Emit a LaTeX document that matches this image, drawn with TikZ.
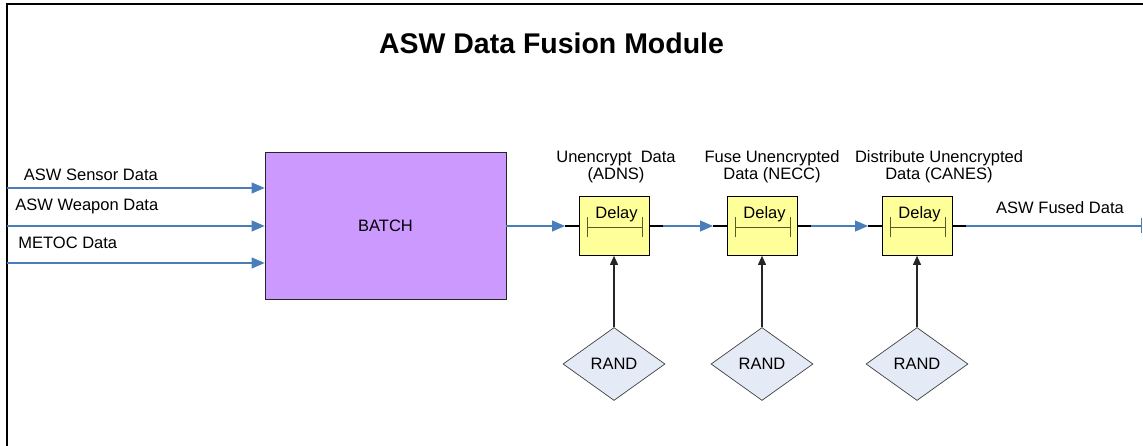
\documentclass[tikz,border=0pt]{standalone}
\usepackage{fontspec}
\setmainfont{Liberation Sans}
\usepackage{tikz}
\usetikzlibrary{arrows, arrows.meta, shapes.geometric}
\definecolor{flowblue}{RGB}{74,126,187}
\definecolor{batchfill}{RGB}{204,153,255}
\definecolor{delayfill}{RGB}{255,255,153}
\definecolor{randfill}{RGB}{228,234,246}
\definecolor{barcolor}{RGB}{90,90,40}
\tikzset{txt/.style = {font = \fontsize{9.4pt}{9.8pt}\selectfont, inner sep = 0pt}}
\tikzset{batch/.style = {shape = rectangle, draw = black!85, fill = batchfill, minimum width = 4.82cm, minimum height = 2.94cm, txt}}
\tikzset{delaybox/.style = {shape = rectangle, draw, fill = delayfill, minimum width = 1.4cm, minimum height = 1.18cm}}
\tikzset{randnode/.style = {shape = diamond, draw = black!75, fill = randfill, minimum width = 2.04cm, minimum height = 1.46cm, inner sep = 0pt, txt}}
\tikzset{flow/.style = {draw = flowblue, line width = 0.6pt, -{Triangle[length = 0.26cm, width = 0.22cm]}}}
\tikzset{stub/.style = {draw = black, line width = 0.6pt}}
\tikzset{seed/.style = {draw = black!85, line width = 0.6pt, -{Triangle[length = 0.18cm, width = 0.16cm]}}}
\tikzset{delaybar/.style = {draw = barcolor, line width = 0.6pt, {Bar[width = 0.4cm]}-{Bar[width = 0.4cm]}}}

\begin{document}
\begin{tikzpicture}
				\useasboundingbox (0, 0) rectangle (22.86, 8.92);
				\draw[line width = 0.85pt] (0.14, 0) -- (0.14, 8.84) -- (22.86, 8.84);

				\node[font = \fontsize{16.2pt}{18pt}\selectfont\bfseries] (title) at (11.03, 8.06) {ASW Data Fusion Module};

				\node[batch] (batch) at (7.71, 4.41) {BATCH};

				\coordinate (s1) at (0.14, 5.16);
				\coordinate (s2) at (0.14, 4.40);
				\coordinate (s3) at (0.14, 3.66);
				\node[txt, anchor = west] (sensor) at (0.47, 5.42) {ASW Sensor Data};
				\node[txt, anchor = west] (weapon) at (0.30, 4.80) {ASW Weapon Data};
				\node[txt, anchor = west] (metoc) at (0.36, 4.06) {METOC Data};

				\node[delaybox] (d1) at (12.28, 4.40) {};
				\node[delaybox] (d2) at (15.24, 4.40) {};
				\node[delaybox] (d3) at (18.34, 4.40) {};
				\node[txt] (dt1) at (12.33, 4.64) {Delay};
				\node[txt] (dt2) at (15.29, 4.64) {Delay};
				\node[txt] (dt3) at (18.39, 4.64) {Delay};

				\node[txt, align = center] (l1) at (12.32, 5.58) {Unencrypt\ \ Data\\(ADNS)};
				\node[txt, align = center] (l2) at (15.44, 5.58) {Fuse Unencrypted\\Data (NECC)};
				\node[txt, align = center] (l3) at (18.78, 5.58) {Distribute Unencrypted\\Data (CANES)};
				\node[txt] (fused) at (21.20, 4.76) {ASW Fused Data};

				\node[randnode] (r1) at (12.28, 1.64) {RAND};
				\node[randnode] (r2) at (15.24, 1.64) {RAND};
				\node[randnode] (r3) at (18.34, 1.64) {RAND};

				\coordinate (i1) at (11.30, 4.40);
				\coordinate (o1) at (13.26, 4.40);
				\coordinate (i2) at (14.26, 4.40);
				\coordinate (o2) at (16.22, 4.40);
				\coordinate (i3) at (17.36, 4.40);
				\coordinate (o3) at (19.32, 4.40);
				\coordinate (out) at (22.84, 4.40);

				\draw[flow] (s1) -- (s1 -| batch.west);
				\draw[flow] (s2) -- (s2 -| batch.west);
				\draw[flow] (s3) -- (s3 -| batch.west);

				\draw[flow] (batch.east |- i1) -- (i1);
				\draw[stub] (i1) -- (d1.west);
				\draw[stub] (d1.east) -- (o1);
				\draw[flow] (o1) -- (i2);
				\draw[stub] (i2) -- (d2.west);
				\draw[stub] (d2.east) -- (o2);
				\draw[flow] (o2) -- (i3);
				\draw[stub] (i3) -- (d3.west);
				\draw[stub] (d3.east) -- (o3);
				\draw[draw = flowblue, line width = 0.6pt, -{Bar[width = 0.3cm]}] (o3) -- (out);

				\draw[delaybar] ([xshift = -0.54cm, yshift = -0.03cm]d1.center) -- ([xshift = 0.58cm, yshift = -0.03cm]d1.center);
				\draw[delaybar] ([xshift = -0.54cm, yshift = -0.03cm]d2.center) -- ([xshift = 0.58cm, yshift = -0.03cm]d2.center);
				\draw[delaybar] ([xshift = -0.54cm, yshift = -0.03cm]d3.center) -- ([xshift = 0.58cm, yshift = -0.03cm]d3.center);

				\draw[seed] (r1) -- (d1);
				\draw[seed] (r2) -- (d2);
				\draw[seed] (r3) -- (d3);
			\end{tikzpicture}
\end{document}
